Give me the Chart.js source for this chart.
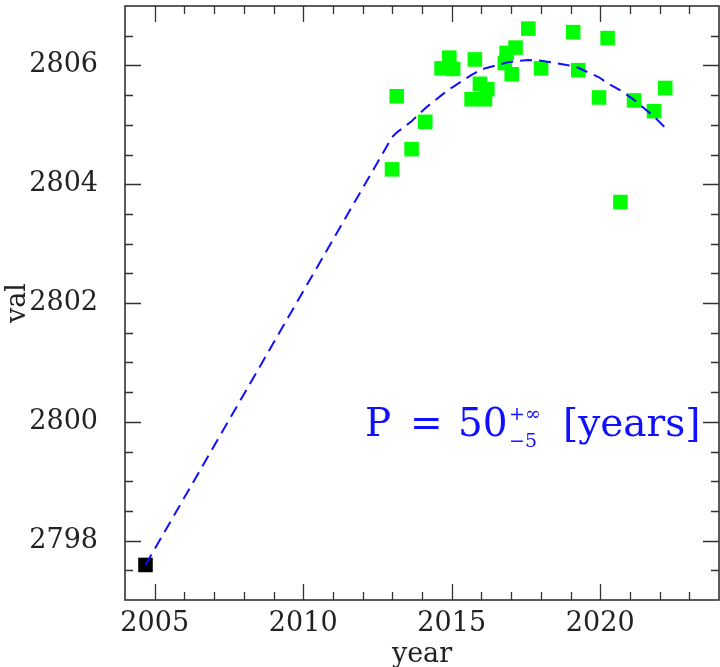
<!DOCTYPE html>
<html>
<head>
<meta charset="utf-8">
<script src="https://cdn.jsdelivr.net/npm/chart.js@4/dist/chart.umd.min.js"></script>
<style>
  html, body { margin: 0; padding: 0; background: #fff; }
</style>
</head>
<body>
<canvas id="valChart" width="720" height="667"></canvas>
<script>
// observed epochs (green squares)
const obsYears = [2012.99, 2013.15, 2013.65, 2014.11, 2014.66, 2014.92, 2015.05, 2015.67, 2015.78,
    2015.95, 2016.12, 2016.20, 2016.79, 2016.85, 2017.02, 2017.15, 2017.58, 2018.01,
    2019.09, 2019.26, 2019.96, 2020.25, 2020.68, 2021.14, 2021.81, 2022.19];
const obsVals = [2804.25, 2805.48, 2804.59, 2805.05, 2805.95, 2806.13, 2805.94, 2805.43, 2806.10,
    2805.69, 2805.43, 2805.60, 2806.04, 2806.21, 2805.85, 2806.30, 2806.62, 2805.95,
    2806.56, 2805.92, 2805.46, 2806.46, 2803.70, 2805.41, 2805.23, 2805.62];

// old point (black square)
const oldYears = [2004.69];
const oldVals = [2797.59];

// fitted model, evaluated at the epochs
const fitYears = [2004.69, 2012.99, 2013.15, 2013.65, 2014.11, 2014.66, 2014.92, 2015.05, 2015.67,
    2015.78, 2015.95, 2016.12, 2016.20, 2016.79, 2016.85, 2017.02, 2017.15, 2017.58,
    2018.01, 2019.09, 2019.26, 2019.96, 2020.25, 2020.68, 2021.14, 2021.81, 2022.19];
const fitVals = [2797.59, 2804.79, 2804.87, 2805.06, 2805.28, 2805.50, 2805.60, 2805.64, 2805.84,
    2805.87, 2805.92, 2805.95, 2805.96, 2806.04, 2806.05, 2806.06, 2806.07, 2806.09,
    2806.08, 2805.99, 2805.96, 2805.80, 2805.70, 2805.58, 2805.42, 2805.14, 2804.95];

const xTicks = [2005, 2010, 2015, 2020];
const yTicks = [2798, 2800, 2802, 2804, 2806];
const xMinor = [];
for (let v = 2005; v <= 2023; v++) xMinor.push(v);
const yMinor = [];
for (let v = 2797.5; v <= 2806.5; v += 0.5) yMinor.push(v);

const serif = 'DejaVu Serif';
const inkColor = '#222';
const fitBlue = '#1010ff';

const toPoints = (xs, ys) => xs.map((x, i) => ({ x: x, y: ys[i] }));

// PGPLOT-like box: frame with inward ticks on every side
const frameTicks = {
    id: 'frameTicks',
    beforeDatasetsDraw(chart) {
        const { ctx, chartArea: a, scales: { x, y } } = chart;
        ctx.save();
        ctx.strokeStyle = '#333';
        ctx.lineWidth = 1.3;
        ctx.beginPath();
        xMinor.forEach(v => {
            const px = Math.round(x.getPixelForValue(v)) + 0.5;
            const len = xTicks.includes(v) ? 16 : 8;
            ctx.moveTo(px, a.bottom); ctx.lineTo(px, a.bottom - len);
            ctx.moveTo(px, a.top); ctx.lineTo(px, a.top + len);
        });
        yMinor.forEach(v => {
            const py = Math.round(y.getPixelForValue(v)) + 0.5;
            const len = yTicks.includes(v) ? 16 : 8;
            ctx.moveTo(a.left, py); ctx.lineTo(a.left + len, py);
            ctx.moveTo(a.right, py); ctx.lineTo(a.right - len, py);
        });
        ctx.stroke();
        ctx.lineWidth = 1.6;
        ctx.strokeRect(a.left, a.top, a.right - a.left, a.bottom - a.top);
        ctx.restore();
    }
};

const periodLabel = {
    id: 'periodLabel',
    afterDraw(chart) {
        const ctx = chart.ctx;
        ctx.save();
        ctx.fillStyle = fitBlue;
        ctx.textBaseline = 'alphabetic';
        ctx.font = '39px "' + serif + '"';
        ctx.fillText('P', 365, 436);
        ctx.fillText('=', 410, 436);
        ctx.fillText('50', 458, 436);
        ctx.fillText('[years]', 563, 436);
        ctx.font = '19px "' + serif + '"';
        ctx.fillText('+\u221E', 509, 420);
        ctx.fillText('\u22125', 509, 447);
        ctx.restore();
    }
};

const axisFont = { family: serif, size: 27 };

// keep the box fixed: no extra room for half labels
const noPad = axis => {
    axis.paddingTop = 0; axis.paddingBottom = 0;
    axis.paddingLeft = 0; axis.paddingRight = 0;
};

const ctx = document.getElementById('valChart').getContext('2d');
const valChart = new Chart(ctx, {
    type: 'scatter',
    data: {
        datasets: [{
            label: 'fit',
            data: toPoints(fitYears, fitVals),
            showLine: true,
            borderColor: fitBlue,
            borderWidth: 2,
            borderDash: [12, 7],
            pointRadius: 0,
            tension: 0,
            fill: false,
            order: 0
        }, {
            label: 'old',
            data: toPoints(oldYears, oldVals),
            pointStyle: 'rect',
            pointRadius: 10.3,
            backgroundColor: '#000',
            borderWidth: 0,
            order: 1
        }, {
            label: 'val',
            data: toPoints(obsYears, obsVals),
            pointStyle: 'rect',
            pointRadius: 10.3,
            backgroundColor: '#00ff00',
            borderWidth: 0,
            order: 2
        }]
    },
    options: {
        responsive: false,
        animation: false,
        devicePixelRatio: 1,
        layout: { autoPadding: false, padding: { top: 6, right: 1, left: 0, bottom: 0 } },
        plugins: { legend: { display: false }, tooltip: { enabled: false } },
        scales: {
            x: {
                type: 'linear',
                min: 2004,
                max: 2024,
                afterBuildTicks: axis => { axis.ticks = xTicks.map(v => ({ value: v })); },
                afterFit: axis => { axis.height = 67; noPad(axis); },
                grid: { display: false, drawTicks: false },
                border: { display: false },
                ticks: {
                    padding: 8,
                    color: inkColor,
                    font: axisFont,
                    maxRotation: 0,
                    autoSkip: false,
                    callback: v => String(v)
                },
                title: {
                    display: true, text: 'year', color: inkColor,
                    font: { family: serif, size: 27, lineHeight: 0.9 }, padding: 0
                }
            },
            y: {
                type: 'linear',
                min: 2797,
                max: 2807,
                afterBuildTicks: axis => { axis.ticks = yTicks.map(v => ({ value: v })); },
                afterFit: axis => { axis.width = 125; noPad(axis); },
                grid: { display: false, drawTicks: false },
                border: { display: false },
                ticks: {
                    padding: 27,
                    color: inkColor,
                    font: axisFont,
                    autoSkip: false,
                    callback: v => String(v)
                },
                title: { display: true, text: 'val', color: inkColor, font: axisFont, padding: { top: 2, bottom: 0 } }
            }
        }
    },
    plugins: [frameTicks, periodLabel]
});
</script>
</body>
</html>
